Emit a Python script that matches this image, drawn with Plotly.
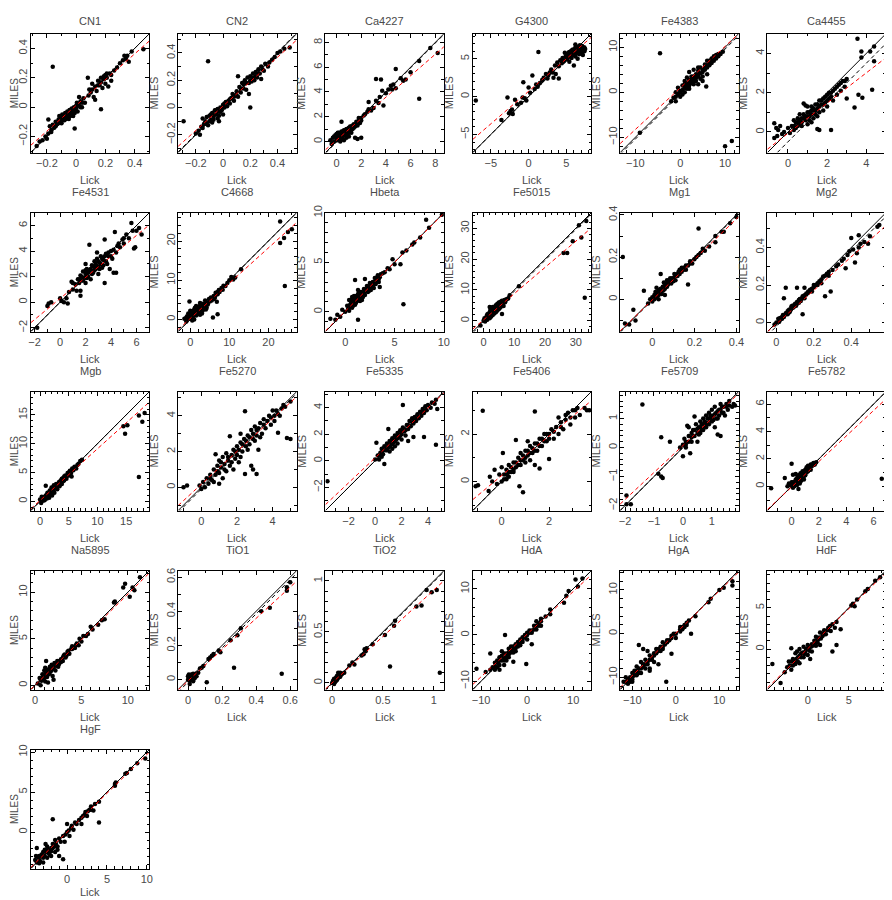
import math
import plotly.graph_objects as go

## Index names, one panel each (Lick measured vs MILES measured)
NAMES = ["CN1", "CN2", "Ca4227", "G4300", "Fe4383", "Ca4455",
         "Fe4531", "C4668", "Hbeta", "Fe5015", "Mg1", "Mg2",
         "Mgb", "Fe5270", "Fe5335", "Fe5406", "Fe5709", "Fe5782",
         "Na5895", "TiO1", "TiO2", "HdA", "HgA", "HdF",
         "HgF"]

## Axis limits (same for Lick and MILES axes) and major tick step
LO = [-0.31, -0.33, -0.9, -7.4, -13.4, -1.05,
      -2.3, -3.1, -2.0, -3.5, -0.153, -0.048,
      -1.6, -1.3, -3.75, -1.22, -2.17, -1.77,
      -0.45, -0.058, -0.065, -11.8, -12.8, -4.9,
      -4.55]
HI = [0.5, 0.54, 8.7, 8.3, 13.0, 5.0,
      7.0, 27.2, 10.0, 35.0, 0.41, 0.585,
      19.0, 5.34, 5.2, 3.78, 1.92, 6.9,
      12.3, 0.637, 1.1, 13.9, 14.4, 9.5,
      10.3]
DTICK = [0.2, 0.2, 2, 5, 10, 2,
         2, 10, 5, 10, 0.2, 0.2,
         5, 2, 2, 2, 1, 2,
         5, 0.2, 0.5, 10, 10, 5,
         5]

## Linear fit (red dashed) and mean offset (black dashed)
RED_SLOPE = [0.877, 0.894, 0.867, 0.859, 0.924, 0.77,
             0.823, 0.9, 0.99, 0.85, 0.96, 0.894,
             0.898, 0.916, 0.94, 0.832, 0.93, 0.93,
             0.98, 0.914, 0.91, 0.922, 0.97, 0.97,
             0.97]
RED_ICPT = [0.012, 0.011, 0.11, 0.7, 0.98, -0.07,
            0.29, 0.24, 0.05, 0.3, -0.003, -0.007,
            0.14, 0.17, 0.22, 0.255, 0.07, -0.05,
            0.0, -0.007, 0.0, 0.18, 0.1, 0.05,
            0.0]
BLK_OFF = [0.0, 0.005, -0.05, 0.0, -0.4, -0.5,
           0.0, 0.0, 0.0, -0.4, -0.004, -0.02,
           0.0, -0.1, 0.0, 0.0, 0.0, 0.0,
           0.0, -0.015, -0.01, 0.0, 0.0, 0.0,
           0.0]

## (Lick, MILES) pairs per index
CN1 = [(-0.27,-0.265),(-0.25,-0.235),(-0.23,-0.225),(-0.21,-0.2),(-0.2,-0.215),(-0.19,-0.085),(-0.18,-0.13),
       (-0.17,-0.155),(-0.16,-0.12),(-0.15,-0.14),(-0.14,-0.1),(-0.13,-0.115),(-0.12,-0.085),(-0.115,-0.06),
       (-0.11,-0.1),(-0.1,-0.075),(-0.095,-0.05),(-0.09,-0.09),(-0.08,-0.065),(-0.075,-0.04),(-0.07,-0.08),
       (-0.065,-0.055),(-0.06,-0.03),(-0.055,-0.07),(-0.05,-0.045),(-0.045,-0.02),(-0.04,-0.06),(-0.035,-0.035),
       (-0.03,-0.01),(-0.025,-0.05),(-0.02,-0.025),(-0.015,0.0),(-0.01,-0.04),(0.0,-0.01),(0.005,0.03),
       (0.01,-0.03),(0.02,0.01),(0.03,0.04),(0.04,0.0),(0.05,0.06),(0.06,0.03),(0.08,0.2),(0.085,0.08),
       (0.09,0.12),(0.1,0.1),(0.11,0.16),(0.12,0.07),(0.13,0.14),(0.14,0.11),(0.15,0.18),(0.16,0.15),
       (0.17,0.2),(0.18,0.13),(0.19,0.19),(0.2,0.16),(0.2,0.22),(0.21,0.2),(0.22,0.14),(0.23,0.23),
       (0.24,0.18),(0.26,0.25),(0.28,0.27),(0.32,0.32),(0.33,0.35),(0.34,0.33),(0.36,0.31),(0.38,0.38),
       (0.46,0.395),(-0.16,0.275),(-0.01,-0.145),(0.17,-0.015),(0.13,0.05),(0.02,0.07),
       (-0.14,-0.13),(-0.12,-0.11),(-0.1,-0.11),(-0.09,-0.07),(-0.08,-0.09),(-0.06,-0.06),(-0.05,-0.08),
       (-0.04,-0.03),(-0.03,-0.04),(-0.02,-0.06),(-0.01,-0.02),(0.0,0.01),(0.01,0.02),(0.03,0.0),(0.04,0.03),
       (0.11,0.12),(0.15,0.15),(0.17,0.17),(0.19,0.21),(0.21,0.23),(0.24,0.22),(0.3,0.3),(0.35,0.35),
       (-0.17,-0.17),(-0.19,-0.18)]
CN2 = [(-0.29,-0.1),(-0.11,0.34),(0.2,0.0),(-0.2,-0.19),(-0.18,-0.17),(-0.17,-0.2),(-0.16,-0.14),(-0.15,-0.08),
       (-0.14,-0.12),(-0.13,-0.1),(-0.12,-0.07),(-0.11,-0.13),(-0.1,-0.06),(-0.09,-0.09),(-0.08,-0.11),
       (-0.08,-0.04),(-0.07,-0.07),(-0.06,-0.02),(-0.05,-0.05),(-0.04,-0.01),(-0.04,-0.08),(-0.03,-0.03),
       (-0.02,0.0),(-0.01,-0.02),(0.0,0.02),(0.0,-0.05),(0.01,0.0),(0.02,0.04),(0.03,0.01),(0.04,0.05),
       (0.05,0.03),(0.06,0.07),(0.07,0.1),(0.08,0.05),(0.09,0.09),(0.1,0.12),(0.11,0.08),(0.12,0.15),
       (0.13,0.11),(0.14,0.18),(0.15,0.14),(0.16,0.2),(0.17,0.13),(0.18,0.22),(0.19,0.18),(0.2,0.23),
       (0.21,0.19),(0.22,0.25),(0.23,0.2),(0.24,0.26),(0.25,0.22),(0.26,0.28),(0.27,0.25),(0.28,0.3),
       (0.3,0.27),(0.31,0.32),(0.33,0.3),(0.36,0.35),(0.4,0.4),(0.42,0.41),(0.45,0.43),(0.49,0.44),
       (0.11,0.23),(0.19,0.1),(0.28,0.21),(-0.03,-0.1),
       (-0.15,-0.15),(-0.12,-0.12),(-0.1,-0.1),(-0.09,-0.05),(-0.07,-0.09),(-0.06,-0.05),(-0.05,-0.02),
       (-0.03,-0.06),(-0.02,-0.03),(0.0,0.0),(0.01,0.03),(0.03,0.04),(0.05,0.06),(0.08,0.08),(0.1,0.09),
       (0.13,0.14),(0.15,0.17),(0.17,0.18),(0.2,0.2),(0.22,0.22),(0.24,0.23),(0.26,0.25),(0.29,0.28),
       (0.34,0.33),(0.38,0.37)]
CA4227 = [(-0.3,0.3),(-0.2,0.0),(-0.1,0.5),(0.0,0.2),(0.0,0.6),(0.1,0.1),(0.1,0.4),(0.2,0.7),(0.2,0.3),
          (0.3,0.0),(0.3,0.5),(0.4,0.2),(0.4,0.8),(0.5,0.4),(0.5,0.6),(0.6,0.1),(0.6,0.9),(0.7,0.5),
          (0.7,0.7),(0.8,0.3),(0.8,1.0),(0.9,0.6),(0.9,0.8),(1.0,1.1),(1.0,0.4),(1.1,0.9),(1.2,1.2),
          (1.2,0.7),(1.3,1.0),(1.4,1.4),(1.5,1.2),(1.5,0.3),(1.6,1.6),(1.7,1.3),(1.7,0.2),(1.8,1.7),
          (1.9,1.5),(2.0,0.3),(2.0,1.9),(2.2,2.1),(2.5,2.4),(2.6,3.2),(2.8,2.5),(3.0,2.7),(3.2,3.3),
          (3.2,5.05),(3.4,3.1),(3.6,5.0),(3.7,4.1),(3.8,2.9),(4.2,4.2),(4.4,4.5),(4.6,4.6),(4.8,5.85),
          (4.8,4.3),(5.2,5.1),(5.4,4.9),(5.6,5.0),(6.0,5.6),(6.7,6.5),(6.7,3.45),(7.6,7.55),(8.2,7.15),
          (0.4,1.6),(-0.5,0.1),(-0.4,-0.2),
          (-0.2,0.4),(0.0,0.4),(0.1,0.7),(0.2,0.5),(0.3,0.3),(0.4,0.6),(0.5,0.2),(0.5,0.8),(0.6,0.6),
          (0.7,0.9),(0.8,0.5),(0.9,1.0),(1.0,0.7),(1.1,1.2),(1.2,1.0),(1.3,1.3),(1.4,1.1),(1.6,1.4),
          (1.8,1.9),(2.0,1.7),(2.3,2.2),(2.6,2.6),(3.5,3.6),(4.0,3.9),(4.5,4.2)]
G4300 = [(-7,-0.5),(1.3,5.9),(-3.6,-3.1),(-2.8,-0.1),(-2.6,-2.2),(-2.4,-1.9),(-2.2,-1.7),(-2.1,-2.3),
         (-1.8,-0.4),(-1.0,-0.8),(-0.8,-0.1),(-0.7,1.9),(-0.5,-0.2),(-0.3,-0.5),(0.0,1.2),(0.2,0.5),
         (0.5,2.8),(0.8,1.0),(1.0,1.6),(1.5,1.8),(1.8,2.2),(2.0,2.5),(2.3,3.0),(2.5,2.4),(2.8,3.2),
         (3.0,3.6),(3.3,2.5),(3.5,4.1),(3.6,3.0),(3.8,4.5),(4.0,2.4),(4.0,4.0),(4.2,4.8),(4.4,4.4),
         (4.5,5.1),(4.7,4.7),(4.8,5.8),(4.9,5.3),(5.0,4.9),(5.1,5.6),(5.2,5.1),(5.3,5.8),(5.5,5.4),
         (5.6,6.0),(5.7,5.1),(5.8,5.7),(5.9,6.2),(6.0,5.5),(6.0,4.1),(6.1,6.0),(6.2,5.3),(6.3,6.4),
         (6.4,5.8),(6.5,6.6),(6.5,5.0),(6.6,6.1),(6.7,5.6),(6.8,6.8),(6.9,6.3),(7.0,5.9),(7.0,6.7),
         (7.1,6.2),(7.2,5.5),(7.3,6.5),(7.4,6.0),(7.5,6.3),(6.2,6.9),(5.4,4.6),
         (5.2,5.4),(5.4,5.9),(5.6,5.6),(5.8,6.2),(6.0,6.0),(6.1,5.7),(6.2,6.5),(6.3,6.0),(6.4,6.3),
         (6.5,5.8),(6.6,6.5),(6.7,6.2),(6.8,5.9),(6.9,6.6),(7.0,6.3),(7.1,6.7),(7.2,6.0),(7.3,6.3),
         (7.4,6.5),(5.0,5.2),(4.6,4.6),(3.2,3.2),(2.6,2.8),(1.2,1.3),(-1.5,-1.0)]
FE4383 = [(-4.5,8.7),(-9,-9),(10,-12),(11.5,-10.8),(-2,-2),(-1.5,-1.2),(-1,-2),(-1,0),(-0.5,-0.5),
          (-0.5,1),(0,0.3),(0,-1),(0.5,0.5),(0.5,1.5),(1,1),(1,0),(1.5,2),(1.5,0.8),(2,1.5),(2,2.8),
          (2.5,3.5),(2.5,2),(3,3),(3,1.8),(3,5),(3.5,2.5),(3.5,4),(4,3.5),(4,4.8),(4.5,3),(4.5,5.5),
          (5,4.5),(5,2.5),(5.5,5),(5.5,6.2),(6,5.5),(6,4),(6.5,7),(6.5,6),(7,6.5),(7,7.5),(7.5,7),
          (7.5,8),(8,7.5),(8,8.3),(8.5,8),(9,8.5),(9.5,9),(2,4.5),(1.5,3.3),(4,1.8),(5.8,1.3),
          (0,0),(0.5,-0.5),(1,1.8),(1.5,1.5),(2,2),(2.5,2.8),(3,3.5),(3.5,3.2),(4,4),(4.5,4.2),(5,5),
          (5.5,5.5),(6,6),(6.5,6.5),(7,7),(7.5,7.5),(8,8),(8.5,8.5),(3,2.3),(5,3.5),(2,0.8),(4,5.5),
          (6,7),(-1,-1),(1,2.5)]
CA4455 = [(-0.7,0.45),(-0.6,0.2),(-0.5,0.1),(-0.7,-0.3),(-0.55,-0.2),(-0.4,0.3),(-0.3,-0.1),(-0.2,0.0),
          (0.0,0.2),(0.1,-0.05),(0.2,0.3),(0.3,0.1),(0.4,0.5),(0.4,0.2),(0.5,0.7),(0.5,0.3),(0.6,0.4),
          (0.6,0.9),(0.7,0.5),(0.7,0.3),(0.8,0.7),(0.8,1.45),(0.9,1.35),(0.9,0.6),(1.0,0.8),(1.0,0.4),
          (1.1,1.0),(1.1,0.6),(1.2,0.9),(1.2,1.3),(1.3,0.7),(1.3,1.1),(1.4,1.4),(1.4,0.9),(1.5,1.2),
          (1.5,0.15),(1.6,1.6),(1.6,0.1),(1.6,1.0),(1.7,1.4),(1.8,1.7),(1.8,1.1),(1.9,1.5),(2.0,1.9),
          (2.0,1.3),(2.1,1.7),(2.2,2.0),(2.2,0.1),(2.3,1.6),(2.4,2.2),(2.5,1.9),(2.6,2.4),(2.7,2.1),
          (2.8,2.6),(2.9,2.3),(3.0,2.7),(3.0,1.7),(3.4,1.25),(3.55,4.75),(3.6,1.9),(3.75,4.1),(3.75,3.8),
          (3.8,1.75),(4.2,4.1),(4.4,4.35),(4.4,3.6),(4.3,2.15),(1.0,1.3),(0.3,0.6),
          (0.5,0.5),(0.6,0.6),(0.7,0.7),(0.8,0.9),(0.9,0.8),(1.0,1.0),(1.1,0.8),(1.2,1.1),(1.3,1.2),
          (1.4,1.1),(1.5,1.4),(1.6,1.3),(1.7,1.6),(1.8,1.4),(1.9,1.8),(2.0,1.6),(2.1,2.0),(2.2,1.8),
          (2.3,2.1),(2.5,2.3),(2.7,2.5),(2.9,2.6),(1.2,0.5),(1.5,0.8),(0.3,0.3)]
FE4531 = [(-1.8,-2.0),(-0.9,-0.1),(-1.0,-0.3),(-0.7,0.0),(0.0,0.3),(0.1,0.1),(0.3,0.0),(0.5,0.3),
          (0.6,-0.1),(0.7,0.8),(0.9,1.6),(1.0,1.0),(1.2,1.4),(1.3,0.9),(1.4,1.8),(1.5,1.5),(1.6,0.9),
          (1.6,2.1),(1.7,1.7),(1.8,2.4),(1.9,1.9),(2.0,2.2),(2.0,1.5),(2.1,2.6),(2.2,2.0),(2.3,4.5),
          (2.3,2.5),(2.4,1.8),(2.5,2.9),(2.6,2.3),(2.7,3.2),(2.8,2.6),(2.9,3.4),(3.0,2.8),(3.0,2.2),
          (3.1,3.1),(3.2,3.6),(3.3,2.7),(3.4,3.3),(3.5,4.9),(3.5,1.5),(3.6,3.8),(3.7,3.0),(3.8,3.6),
          (3.9,2.6),(4.0,4.0),(4.1,3.4),(4.2,2.3),(4.3,5.5),(4.4,2.3),(4.5,4.4),(4.7,4.3),(4.9,4.9),
          (5.0,4.6),(5.2,5.3),(5.4,5.0),(5.6,6.2),(5.7,5.6),(5.8,4.2),(5.9,4.3),(6.0,5.6),(6.2,5.8),
          (6.4,5.3),(2.0,3.0),(2.9,3.9),(1.0,1.5),(1.6,0.5),
          (1.5,1.8),(1.7,2.0),(1.8,1.7),(2.0,2.5),(2.1,1.9),(2.2,2.3),(2.4,2.6),(2.5,2.2),(2.6,2.8),
          (2.7,2.5),(2.8,3.0),(2.9,2.7),(3.0,3.2),(3.1,2.6),(3.2,3.0),(3.3,3.4),(3.4,2.9),(3.5,3.6),
          (3.6,3.2),(3.8,3.9),(4.0,3.6),(4.2,4.1),(4.4,3.9),(4.6,4.6),(5.0,5.0)]
C4668 = [(-1.5,0.2),(-1.0,-0.5),(-0.8,0.8),(-0.5,1.5),(-0.2,4.6),(0.0,0.5),(0.2,1.2),(0.5,-0.3),
         (0.5,2.0),(0.8,0.9),(1.0,1.8),(1.2,3.0),(1.5,1.0),(1.5,2.4),(1.8,1.5),(2.0,3.0),(2.2,2.0),
         (2.5,3.5),(2.5,1.2),(2.8,2.6),(3.0,4.0),(3.2,2.3),(3.5,3.3),(3.8,4.8),(4.0,3.8),(4.2,3.0),
         (4.5,4.3),(4.8,5.2),(5.0,4.6),(5.3,5.6),(5.5,4.8),(5.8,0.5),(6.0,6.0),(6.3,5.5),(6.5,6.8),
         (7.0,1.3),(7.0,6.4),(7.3,7.5),(7.5,7.0),(8.0,8.0),(8.3,7.6),(8.5,8.6),(9.0,8.5),(9.5,9.3),
         (10,10),(10.5,10.8),(11.0,10.2),(11.5,10.7),(13,12.8),(23,25),(23,19.5),(24,20.8),(24.2,8.5),
         (25,22.3),(26,23),(1.0,0.0),(3.0,1.5),(6.8,4.5),
         (-1,0.5),(-0.5,0.2),(0,1.5),(0.5,1),(0.5,0.3),(1,2.5),(1,1.2),(1.5,1.8),(2,2.5),(2,1.4),
         (2.5,2.8),(3,3.1),(3,2.2),(3.5,3.9),(4,4.3),(4.5,3.8),(5,5.3),(5.5,5.4),(6,5.2),(6.5,6.2),
         (7,7),(2.5,4.2),(1.5,3.4),(0,2.2),(4,2.5)]
HBETA = [(-1.5,-0.7),(-1.0,-0.8),(-0.8,-0.3),(-0.5,-0.5),(-0.3,0.2),(0.0,0.0),(0.2,0.6),(0.3,0.3),
         (0.4,1.2),(0.5,0.7),(0.6,0.9),(0.7,0.4),(0.7,1.5),(0.8,1.0),(0.9,1.3),(1.0,0.7),(1.0,3.2),
         (1.1,1.6),(1.2,1.1),(1.3,-0.8),(1.3,1.8),(1.4,1.3),(1.5,1.5),(1.6,2.0),(1.7,1.2),(1.8,1.9),
         (1.9,2.3),(2.0,1.7),(2.1,2.2),(2.2,2.6),(2.3,2.0),(2.4,2.4),(2.5,2.9),(2.6,2.2),(2.7,2.6),
         (2.8,3.0),(2.9,2.4),(3.0,3.4),(3.1,2.8),(3.2,3.1),(3.3,3.7),(3.4,3.0),(3.5,3.5),(3.8,3.9),
         (4.0,4.0),(4.3,4.4),(4.5,4.3),(4.8,5.3),(5.0,4.8),(5.6,4.8),(5.8,6.0),(5.9,0.75),(6.2,6.2),
         (6.8,6.8),(7.0,7.0),(7.6,7.5),(8.2,9.3),(8.5,8.5),(9.8,9.8),(2.0,3.3),(3.5,2.5),
         (0.5,0.5),(0.6,1.2),(0.8,0.6),(0.9,1.0),(1.0,1.3),(1.1,0.9),(1.2,1.5),(1.4,1.6),(1.5,1.1),
         (1.6,1.7),(1.8,1.5),(1.9,2.0),(2.0,2.1),(2.2,2.3),(2.4,2.1),(2.5,2.6),(2.7,2.9),(2.9,2.8),
         (3.0,3.0),(3.2,3.4),(3.4,3.3),(3.6,3.8),(1.3,2.2),(0.9,1.6),(0.4,0.1)]
FE5015 = [(-1,-1.5),(0,0),(0.3,0.8),(0.5,-0.2),(0.8,0.5),(1.0,1.5),(1.2,0.3),(1.5,1.0),(1.5,2.3),
          (1.8,1.6),(2.0,2.8),(2.0,0.8),(2.3,2.0),(2.5,1.4),(2.5,3.3),(2.8,2.6),(3.0,1.9),(3.0,4.5),
          (3.3,3.2),(3.5,2.4),(3.5,4.0),(3.8,3.5),(4.0,2.8),(4.0,5.0),(4.3,4.2),(4.5,3.3),(4.5,5.5),
          (4.8,4.6),(5.0,3.8),(5.0,5.9),(5.3,5.0),(5.5,4.3),(5.5,6.2),(5.8,5.4),(6.0,2.2),(6.0,6.5),
          (6.3,5.8),(6.5,4.8),(6.8,6.7),(7.0,6.0),(7.5,7.0),(8.0,7.2),(8.5,8.3),(11.5,11.2),(26,22),
          (27.2,22),(29,25.8),(31,31),(31.8,27),(32.9,7.5),(33.4,32.3),(2,4.5),
          (0.5,0.5),(1,1),(1.5,1.5),(2,2),(2.3,2.6),(2.7,2.2),(3,3),(3.3,3.8),(3.6,3.0),(4,4),
          (4.2,3.5),(4.5,4.5),(4.8,4.0),(5,5),(5.3,5.5),(5.6,4.9),(6,6),(6.2,5.2),(6.5,6.2),(7,6.5),
          (2.2,3.5),(1.2,2.0),(3.8,4.6),(5.8,6.0),(7.3,6.8)]
MG1 = [(-0.14,0.2),(-0.13,-0.115),(-0.11,-0.12),(-0.09,-0.05),(-0.08,-0.1),(-0.04,0.04),(-0.02,-0.02),
       (-0.01,0.0),(0.0,0.01),(0.0,-0.01),(0.01,0.02),(0.01,0.0),(0.015,0.035),(0.02,0.01),(0.025,0.02),
       (0.03,0.04),(0.03,0.0),(0.035,0.03),(0.04,0.12),(0.04,0.05),(0.045,0.025),(0.05,0.06),(0.05,0.04),
       (0.055,0.08),(0.06,0.05),(0.065,0.07),(0.07,0.09),(0.07,0.06),(0.08,0.08),(0.085,0.1),(0.09,0.075),
       (0.1,0.1),(0.105,0.12),(0.11,0.09),(0.12,0.11),(0.125,0.13),(0.13,0.12),(0.135,0.14),(0.14,0.13),
       (0.15,0.15),(0.16,0.14),(0.17,0.07),(0.17,0.16),(0.18,0.18),(0.19,0.17),(0.2,0.19),(0.21,0.2),
       (0.22,0.335),(0.22,0.21),(0.23,0.22),(0.24,0.24),(0.25,0.23),(0.27,0.25),(0.3,0.27),(0.3,0.3),
       (0.33,0.32),(0.34,0.32),(0.37,0.36),(0.4,0.39),(0.02,0.055),(0.06,0.02),
       (0.005,0.005),(0.01,0.01),(0.02,0.02),(0.025,0.03),(0.03,0.02),(0.035,0.045),(0.04,0.035),
       (0.045,0.05),(0.05,0.05),(0.055,0.045),(0.06,0.065),(0.065,0.06),(0.07,0.075),(0.075,0.07),
       (0.08,0.09),(0.09,0.09),(0.095,0.1),(0.1,0.085),(0.11,0.11),(0.12,0.12),(0.13,0.14),(0.14,0.15),
       (0.15,0.14),(0.16,0.16),(0.18,0.17)]
MG2 = [(-0.01,-0.01),(0.0,0.0),(0.01,0.02),(0.015,0.005),(0.02,0.025),(0.03,0.02),(0.035,0.04),(0.04,0.13),
       (0.04,0.03),(0.05,0.185),(0.05,0.05),(0.06,0.045),(0.065,0.065),(0.07,0.055),(0.08,0.075),
       (0.085,0.09),(0.09,0.08),(0.1,0.1),(0.105,0.09),(0.11,0.185),(0.11,0.11),(0.12,0.105),(0.125,0.125),
       (0.13,0.115),(0.14,0.045),(0.14,0.14),(0.15,0.185),(0.15,0.13),(0.16,0.15),(0.17,0.16),(0.18,0.175),
       (0.19,0.165),(0.2,0.19),(0.21,0.2),(0.22,0.2),(0.23,0.22),(0.24,0.21),(0.25,0.245),(0.26,0.14),
       (0.27,0.26),(0.28,0.25),(0.29,0.165),(0.3,0.28),(0.32,0.3),(0.33,0.31),(0.35,0.33),(0.36,0.34),
       (0.37,0.29),(0.38,0.36),(0.39,0.38),(0.4,0.45),(0.41,0.39),(0.42,0.32),(0.43,0.37),(0.44,0.465),
       (0.45,0.42),(0.47,0.43),(0.49,0.42),(0.5,0.46),(0.54,0.51),(0.55,0.52),(0.44,0.4),
       (0.02,0.015),(0.03,0.03),(0.045,0.04),(0.055,0.05),(0.06,0.06),(0.07,0.07),(0.075,0.065),
       (0.08,0.085),(0.09,0.09),(0.095,0.085),(0.1,0.095),(0.11,0.1),(0.12,0.12),(0.13,0.125),(0.14,0.13),
       (0.15,0.145),(0.16,0.155),(0.17,0.165),(0.18,0.17),(0.19,0.18),(0.2,0.2),(0.22,0.21),(0.24,0.23),
       (0.26,0.25),(0.28,0.27)]
MGB = [(0,0.3),(0.2,-0.3),(0.3,0.8),(0.5,0.1),(0.6,0.6),(0.8,0.2),(1.0,2.7),(1.0,1.0),(1.2,0.5),
       (1.3,1.5),(1.5,1.1),(1.6,0.6),(1.7,1.9),(1.9,1.5),(2.0,2.4),(2.1,1.0),(2.3,2.0),(2.4,2.8),
       (2.5,1.5),(2.7,2.5),(2.8,3.0),(3.0,2.1),(3.1,2.9),(3.3,3.3),(3.4,2.6),(3.6,3.6),(3.8,3.0),
       (4.0,4.0),(4.2,3.6),(4.4,4.5),(4.6,3.9),(4.8,4.9),(5.0,4.5),(5.2,5.3),(5.4,4.9),(5.5,4.3),
       (5.6,5.7),(5.8,5.4),(6.0,6.0),(6.3,5.7),(6.7,6.5),(7.0,7.0),(7.3,7.2),(14.5,13),(14.8,11.7),
       (15.2,13.2),(17.2,14.9),(17.2,4.2),(17.8,13.8),(18.2,15.3),(2.2,1.8),(3.5,3.0),
       (0.5,0.5),(0.8,0.8),(1.0,0.6),(1.2,1.2),(1.5,1.5),(1.7,1.2),(2.0,2.0),(2.2,2.3),(2.4,2.0),
       (2.6,2.6),(2.8,2.4),(3.0,3.0),(3.2,2.8),(3.4,3.4),(3.6,3.2),(3.8,3.9),(4.0,3.5),(4.2,4.3),
       (4.5,4.2),(4.8,4.5),(5.0,5.0),(5.3,5.0),(5.7,5.5),(6.0,5.8),(6.5,6.3)]
FE5270 = [(-1.0,0.0),(-0.8,0.1),(-0.1,0.1),(0.0,-0.1),(0.1,0.3),(0.2,0.0),(0.3,0.5),(0.4,0.2),
          (0.5,0.7),(0.6,0.4),(0.7,1.0),(0.7,0.3),(0.8,1.85),(0.8,0.7),(0.9,1.2),(1.0,0.8),(1.0,1.5),
          (1.1,1.1),(1.2,1.7),(1.2,0.5),(1.3,1.3),(1.4,1.9),(1.4,0.9),(1.5,1.5),(1.6,2.85),(1.6,1.2),
          (1.7,1.8),(1.8,2.1),(1.8,1.0),(1.9,1.6),(2.0,2.3),(2.0,1.8),(2.1,1.4),(2.2,2.5),(2.3,2.0),
          (2.4,2.7),(2.45,4.25),(2.45,0.75),(2.5,2.3),(2.6,2.9),(2.7,2.4),(2.8,1.2),(2.8,3.2),(2.9,1.0),
          (2.9,2.7),(3.0,3.4),(3.1,0.75),(3.1,2.9),(3.2,2.1),(3.3,3.6),(3.4,3.0),(3.5,3.8),(3.6,3.3),
          (3.8,4.0),(3.9,3.5),(4.0,4.3),(4.1,3.7),(4.3,3.05),(4.3,4.1),(4.5,4.4),(4.7,4.5),(4.8,2.75),
          (5.0,2.7),(5.0,4.8),(1.0,0.2),(2.2,3.0),
          (0.5,0.5),(0.9,0.9),(1.1,1.4),(1.3,1.0),(1.5,1.7),(1.7,1.4),(1.9,2.0),(2.1,2.1),(2.2,1.7),
          (2.3,2.4),(2.5,2.6),(2.6,2.1),(2.7,2.8),(2.9,3.0),(3.0,2.6),(3.1,3.2),(3.2,3.3),(3.3,2.8),
          (3.5,3.5),(3.7,3.7),(3.9,3.9),(4.1,4.0),(4.2,4.3),(4.4,4.0),(4.6,4.6)]
FE5335 = [(-3.6,-1.55),(0.0,0.1),(0.1,1.35),(0.2,0.4),(0.3,0.1),(0.4,0.6),(0.5,0.3),(0.5,0.9),(0.6,0.5),
          (0.7,-0.25),(0.7,1.1),(0.8,0.8),(0.9,1.3),(1.0,2.4),(1.0,1.0),(1.1,0.7),(1.1,1.5),(1.2,1.2),
          (1.3,1.7),(1.3,0.9),(1.4,1.4),(1.5,1.9),(1.5,1.1),(1.6,1.6),(1.7,2.1),(1.7,1.3),(1.8,1.8),
          (1.9,2.3),(2.0,1.6),(2.0,2.0),(2.1,4.2),(2.1,2.5),(2.2,2.2),(2.3,1.9),(2.4,2.7),(2.5,1.5),
          (2.5,2.4),(2.6,3.0),(2.7,2.6),(2.8,3.2),(2.9,1.8),(2.9,2.8),(3.0,3.3),(3.1,3.0),(3.2,3.5),
          (3.3,3.2),(3.4,3.7),(3.5,3.4),(3.6,3.9),(3.7,1.8),(3.7,3.6),(3.8,4.1),(3.9,3.8),(4.0,4.2),
          (4.2,4.0),(4.3,4.4),(4.5,4.3),(4.6,1.2),(4.6,4.6),(4.7,3.9),
          (0.3,0.4),(0.5,0.6),(0.6,0.8),(0.8,1.0),(0.9,0.8),(1.0,1.2),(1.1,1.1),(1.2,1.4),(1.3,1.3),
          (1.4,1.6),(1.5,1.5),(1.6,1.8),(1.7,1.7),(1.8,2.0),(1.9,1.9),(2.0,2.2),(2.2,2.4),(2.3,2.3),
          (2.5,2.7),(2.6,2.6),(2.8,2.9),(3.0,3.1),(3.2,3.2),(3.5,3.6),(3.8,3.8)]
FE5406 = [(-1.1,-0.2),(-1.0,-0.15),(-0.8,2.98),(-0.55,-0.4),(-0.5,0.2),(-0.4,0.0),(-0.3,0.5),(-0.2,-0.1),
          (-0.1,0.3),(0.0,0.6),(0.0,0.0),(0.05,1.2),(0.1,0.3),(0.2,0.1),(0.2,0.5),(0.3,0.7),(0.3,0.2),
          (0.4,0.4),(0.5,0.8),(0.5,0.5),(0.6,1.75),(0.6,0.6),(0.7,1.0),(0.75,-0.2),(0.8,0.7),(0.8,1.2),
          (0.9,-0.45),(0.9,0.9),(1.0,1.3),(1.0,0.8),(1.1,1.1),(1.2,1.5),(1.2,0.9),(1.3,1.2),(1.4,2.95),
          (1.4,1.6),(1.4,0.7),(1.5,1.3),(1.6,1.8),(1.6,0.55),(1.7,1.5),(1.8,2.0),(1.9,1.7),(2.0,0.95),
          (2.0,2.0),(2.1,2.2),(2.2,1.8),(2.3,2.3),(2.4,2.0),(2.5,2.5),(2.6,2.2),(2.7,2.6),(2.8,2.9),
          (2.9,2.4),(3.0,3.0),(3.1,2.7),(3.2,3.1),(3.3,2.8),(3.5,3.1),(3.6,3.0),(3.7,3.0),(1.1,1.7),(2.4,2.7),
          (0.1,0.1),(0.2,0.3),(0.3,0.4),(0.4,0.6),(0.5,0.4),(0.6,0.8),(0.7,0.7),(0.8,0.9),(0.9,1.1),
          (1.0,1.0),(1.1,1.3),(1.2,1.2),(1.3,1.4),(1.4,1.3),(1.5,1.6),(1.6,1.5),(1.7,1.8),(1.8,1.7),
          (1.9,2.0),(2.0,1.8),(2.2,2.1),(2.5,2.3),(2.7,2.8),(2.9,2.7),(3.1,3.0)]
FE5709 = [(-1.95,-1.65),(-1.95,-1.95),(-1.8,-1.95),(-1.4,1.48),(-0.85,-0.9),(-0.75,-1.0),(-0.7,-1.05),
          (-0.75,0.35),(-0.45,0.2),(-0.1,0.0),(0.0,0.1),(0.0,-0.3),(0.05,0.3),(0.1,0.0),(0.1,0.2),
          (0.15,0.75),(0.2,0.7),(0.2,0.4),(0.25,-0.2),(0.3,0.5),(0.3,0.2),(0.35,0.6),(0.4,1.07),(0.4,0.4),
          (0.45,0.8),(0.5,0.5),(0.5,0.2),(0.55,0.7),(0.6,0.9),(0.6,0.5),(0.65,0.8),(0.7,1.0),(0.7,0.6),
          (0.75,0.9),(0.8,1.1),(0.8,0.7),(0.85,1.0),(0.9,1.2),(0.9,0.8),(0.95,0.95),(1.0,1.3),(1.0,0.9),
          (1.05,1.1),(1.1,1.4),(1.1,0.7),(1.15,1.2),(1.2,1.0),(1.2,0.45),(1.25,1.3),(1.3,0.4),(1.3,1.5),
          (1.35,1.2),(1.4,1.4),(1.45,1.1),(1.5,1.5),(1.55,1.3),(1.6,1.6),(1.7,1.4),(1.75,1.5),(1.8,1.45),
          (0.1,0.1),(0.2,0.2),(0.3,0.35),(0.4,0.6),(0.5,0.65),(0.6,0.7),(0.7,0.8),(0.75,0.7),(0.8,0.85),
          (0.85,0.8),(0.9,1.0),(0.95,1.1),(1.0,1.05),(1.05,0.95),(1.1,1.15),(1.15,1.0),(1.2,1.25),
          (1.25,1.1),(1.3,1.3),(1.35,1.4),(1.4,1.2),(1.5,1.4),(1.6,1.45),(0.65,0.6),(0.55,0.45)]
FE5782 = [(-1.5,-0.15),(-0.5,0.6),(-0.3,0.0),(-0.2,0.2),(0.0,1.65),(0.0,0.1),(0.1,0.85),(0.1,-0.1),
          (0.2,0.3),(0.2,0.0),(0.3,0.5),(0.3,0.2),(0.4,0.1),(0.4,0.6),(0.5,0.4),(0.5,0.8),(0.6,0.2),
          (0.6,0.6),(0.7,0.9),(0.7,0.4),(0.8,0.7),(0.8,1.1),(0.9,0.5),(0.9,0.9),(1.0,1.2),(1.0,0.8),
          (1.1,1.0),(1.1,1.4),(1.2,1.1),(1.2,1.5),(1.3,1.3),(1.4,1.6),(1.4,1.2),(1.5,1.5),(1.6,1.7),
          (1.7,1.6),(1.8,1.75),(6.6,0.55),(0.5,-0.2),(0.3,0.9),
          (0.2,0.15),(0.3,0.35),(0.4,0.4),(0.5,0.55),(0.6,0.45),(0.7,0.7),(0.75,0.55),(0.8,0.85),
          (0.9,0.75),(0.95,1.0),(1.0,0.95),(1.05,1.1),(1.1,1.2),(1.2,1.3),(1.25,1.2),(1.3,1.45),
          (1.35,1.35),(1.45,1.5),(1.5,1.6),(1.6,1.55),(0.1,0.3),(0.0,0.3),(-0.1,0.1),(0.65,0.95),(0.85,0.6)]
NA5895 = [(0.3,0.2),(0.5,0.8),(0.6,0.0),(0.7,0.5),(0.8,1.2),(0.9,0.6),(1.0,1.0),(1.0,1.6),(1.1,0.4),
          (1.2,1.3),(1.2,2.6),(1.3,0.9),(1.4,1.7),(1.5,1.2),(1.6,2.0),(1.7,1.5),(1.8,2.2),(1.9,1.0),
          (2.0,1.8),(2.1,2.4),(2.2,1.6),(2.3,2.1),(2.4,2.6),(2.5,2.0),(2.6,2.3),(2.8,2.8),(3.0,2.6),
          (3.1,3.2),(3.3,3.0),(3.5,3.6),(3.7,3.4),(3.9,3.9),(4.0,4.2),(4.3,4.0),(4.5,4.5),(4.7,4.3),
          (4.8,5.0),(5.0,4.7),(5.2,5.3),(5.5,5.3),(5.7,5.5),(6.0,6.3),(6.2,6.0),(6.8,6.5),(7.2,7.0),
          (7.5,7.1),(8.5,8.9),(8.6,9.0),(9.5,10.5),(9.7,10.9),(10.2,9.5),(10.5,10.5),(10.7,10.2),
          (11.3,11.6),(2.0,0.6),(1.4,0.3),
          (0.6,0.6),(0.8,0.8),(0.9,1.1),(1.0,0.8),(1.1,1.2),(1.2,1.0),(1.3,1.5),(1.4,1.3),(1.5,1.6),
          (1.6,1.4),(1.7,1.9),(1.8,1.7),(1.9,2.1),(2.0,2.0),(2.2,2.2),(2.4,2.3),(2.6,2.6),(2.8,2.5),
          (3.0,3.0),(3.2,3.3),(3.4,3.2),(3.6,3.7),(4.0,3.9),(4.4,4.3),(1.1,1.9)]
TIO1 = [(0.0,0.0),(0.0,0.02),(0.005,0.01),(0.01,-0.005),(0.01,0.025),(0.015,0.015),(0.02,0.0),(0.02,0.03),
        (0.025,0.01),(0.03,0.02),(0.03,-0.01),(0.035,0.005),(0.04,0.025),(0.04,0.01),(0.045,0.035),
        (0.05,0.02),(0.01,-0.025),(0.06,0.04),(0.07,0.065),(0.08,0.07),(0.09,0.08),(0.11,-0.015),
        (0.12,0.12),(0.13,0.13),(0.14,0.14),(0.15,0.15),(0.18,0.17),(0.19,0.16),(0.25,0.23),(0.27,0.07),
        (0.29,0.26),(0.31,0.3),(0.43,0.4),(0.48,0.42),(0.55,0.035),(0.58,0.52),(0.58,0.54),(0.6,0.57),
        (0.005,0.03),(0.015,0.0),(0.025,0.025),(0.035,0.02),(0.02,0.015),(0.03,0.035)]
TIO2 = [(0.0,0.0),(0.01,0.02),(0.02,-0.01),(0.02,0.04),(0.03,0.01),(0.04,0.05),(0.04,0.02),(0.05,0.07),
        (0.05,0.03),(0.06,0.1),(0.06,0.05),(0.07,0.08),(0.08,0.06),(0.08,0.1),(0.1,0.09),(0.12,0.1),
        (0.17,0.17),(0.2,0.2),(0.22,0.18),(0.29,0.27),(0.31,0.28),(0.32,0.33),(0.34,0.34),(0.33,0.31),
        (0.4,0.38),(0.52,0.47),(0.61,0.56),(0.62,0.61),(0.83,0.75),(0.88,0.76),(0.93,0.91),(0.98,0.89),
        (1.03,0.91),(0.57,0.16),(1.06,0.1),
        (0.015,0.01),(0.03,0.03),(0.045,0.06),(0.055,0.05),(0.07,0.06),(0.09,0.08)]
HDA = [(-11,-7.3),(-8,-4),(-8,-7.5),(-7.5,-7),(-7,-6),(-7,-7.5),(-6.5,-5.5),(-6,-6.5),(-6,-4.8),
       (-5.5,-5.5),(-5.5,-3.5),(-5,-5),(-5,-6.5),(-4.8,0),(-4.5,-4),(-4.5,-5.5),(-4,-3),(-4,-4.8),
       (-3.5,-3.8),(-3.5,-2.5),(-3,-5.8),(-3,-3),(-2.5,-2),(-2.5,-3.5),(-2,-1.5),(-2,-2.5),(-1.5,-1),
       (-1.5,-2.2),(-1,-0.5),(-1,-1.5),(-0.5,0),(-0.2,-6.3),(0,0.5),(0,-1),(0.5,1),(1,-2),(1,0.5),
       (1.5,2),(2,3),(2,1.2),(2.5,2.5),(3,2),(3,3.5),(4,4),(5,4.5),(5,5.5),(8,7),(8.5,8.5),(9,9.5),
       (10.5,12),(11,10.5),(12,12.2),(-9,-8),(-6,-7.5),
       (-7,-6.8),(-6.5,-6),(-6,-5.5),(-5.5,-4.5),(-5,-4),(-5,-5.5),(-4.5,-4.8),(-4,-3.8),(-4,-4.2),
       (-3.5,-3.2),(-3,-2.5),(-3,-3.8),(-2.5,-2.8),(-2,-2),(-1.5,-1.5),(-1,-1),(-0.5,-0.5),(0,0),
       (0.5,0.5),(1,1),(1.5,1.2),(2,2),(2.5,2),(3,3),(-6.5,-7)]
HGA = [(-12,-11),(-11.5,-10),(-11,-11.5),(-10.5,-10),(-10,-9),(-10,-11),(-9.5,-8.5),(-9,-9.5),(-9,-7.5),
       (-8.5,-2.6),(-8.5,-8),(-8,-6.5),(-8,-9),(-7.5,-3.5),(-7.5,-7.5),(-7,-6),(-7,-8),(-6.5,-4),
       (-6.5,-6.5),(-6,-5),(-6,-8),(-5.5,-5.5),(-5,-4.5),(-5,-6.5),(-4.5,-3.5),(-4,-7),(-4,-4),
       (-3.5,-3),(-3,-2),(-3,-3.5),(-2.5,-2.5),(-2.2,-11),(-2,-1.5),(-1.5,-1.5),(-1,-4.6),(-1,-0.5),
       (0,0),(0,-1),(1,1),(1,0.5),(1.5,1.5),(2,1.5),(2.5,2),(3,3),(3.5,0),(4.5,4),(7.5,7.2),(8,8),
       (10,10),(11,10.5),(13,11),(13,12),(-6,-8.5),(-10,-10.5),
       (-11.5,-11),(-11,-10.5),(-10.5,-11),(-10,-10),(-9.5,-9.5),(-9,-8.5),(-8.5,-9),(-8,-8),(-7.5,-7),
       (-7,-7),(-6.5,-7),(-6,-6),(-5.5,-6),(-5,-5),(-4.5,-4.5),(-4,-3.5),(-3.5,-4),(-3,-3),(-2,-2),
       (-1,-1),(1,1.5),(1.5,1),(2,2),(2.5,2.5),(-0.5,0)]
HDF = [(-4.3,-1.8),(-3.3,-4.1),(-2.5,-2.2),(-2.3,-1.5),(-2.0,0.1),(-2.0,-2.5),(-1.8,-1.2),(-1.5,-1.8),
       (-1.5,-0.5),(-1.2,-1.0),(-1.0,0.0),(-1.0,-1.7),(-0.8,-0.5),(-0.5,-1.0),(-0.5,0.3),(-0.3,-0.3),
       (0.0,0.5),(0.0,-0.7),(0.2,0.2),(0.5,0.6),(0.5,-0.3),(0.8,1.0),(1.0,0.4),(1.0,1.5),(1.3,1.2),
       (1.5,0.5),(1.5,2.0),(1.8,1.6),(2.0,2.3),(2.2,1.8),(2.5,2.6),(2.8,2.2),(3.0,-0.3),(3.0,3.0),
       (3.3,2.6),(3.5,0.5),(3.5,3.3),(4.0,2.4),(5.3,5.3),(5.5,5.5),(5.7,5.2),(6.0,6.0),(7.0,7.0),
       (7.3,7.3),(8.2,8.3),(8.8,8.7),(-2.8,-2.8),(0.3,-1.2),
       (-2.2,-2.0),(-2.0,-1.5),(-1.8,-2.0),(-1.6,-1.4),(-1.4,-1.2),(-1.2,-1.5),(-1.0,-0.8),(-0.8,-1.0),
       (-0.6,-0.4),(-0.4,-0.6),(-0.2,0.0),(0.0,0.0),(0.2,-0.2),(0.4,0.3),(0.6,0.4),(0.8,0.6),(1.0,1.0),
       (1.2,0.8),(1.4,1.4),(1.6,1.3),(1.8,1.9),(2.0,1.8),(2.4,2.3),(2.7,2.8),(-1.3,-0.3)]
HGF = [(-4.0,-3.5),(-3.8,-2.0),(-3.5,-3.9),(-3.3,-3.0),(-3.0,-2.5),(-3.0,-3.8),(-2.8,-2.2),(-2.5,-3.2),
       (-2.5,-1.8),(-2.3,-2.6),(-2.0,-2.0),(-2.0,-3.0),(-1.8,1.6),(-1.8,-1.5),(-1.5,-2.5),(-1.5,-1.0),
       (-1.2,-1.8),(-1.0,-0.8),(-1.0,-3.0),(-0.5,-3.4),(-0.5,-0.5),(-0.3,-1.2),(0.0,0.0),(0.0,1.0),
       (0.3,-0.5),(0.5,0.5),(0.8,0.3),(1.0,1.2),(1.5,1.5),(1.8,1.0),(2.0,2.0),(2.3,2.5),(2.5,2.0),
       (2.8,2.8),(3.0,3.2),(3.3,2.7),(3.5,3.5),(4.0,1.2),(4.0,3.8),(6.0,5.8),(6.0,6.0),(6.1,6.2),
       (7.3,7.3),(7.5,7.4),(8.0,7.9),(8.8,8.6),(9.8,9.2),(-3.5,-3.0),
       (-3.8,-3.8),(-3.6,-3.2),(-3.4,-3.6),(-3.2,-2.8),(-3.0,-3.2),(-2.8,-3.0),(-2.6,-2.5),(-2.4,-2.2),
       (-2.2,-2.8),(-2.0,-2.4),(-1.8,-2.0),(-1.6,-1.8),(-1.4,-1.5),(-1.2,-2.2),(-0.8,-1.2),(-0.2,-0.3),
       (0.2,0.2),(0.6,0.8),(1.2,1.0),(1.8,1.8),(2.2,2.2),(2.6,2.6),(3.0,2.8),(-2.7,-1.5),(-3.9,-3.0)]

PANELS = [CN1, CN2, CA4227, G4300, FE4383, CA4455,
          FE4531, C4668, HBETA, FE5015, MG1, MG2,
          MGB, FE5270, FE5335, FE5406, FE5709, FE5782,
          NA5895, TIO1, TIO2, HDA, HGA, HDF,
          HGF]

## Page geometry in pixels; the page body keeps its default 8 px margin,
## so the figure is made 8 px smaller and every position is shifted by it
BODY = 8
W, H = 892 - BODY, 900 - BODY
LEFT0, COLSTEP, PW = 29 - BODY, 148.67, 119.5
TOP0, ROWSTEP, PH = 26 - BODY, 180.8, 120
TXT = "#4a4a4a"
FONT = "Liberation Sans"


def minor_step(d):
    ## PGPLOT-like subdivisions: 2 -> halves, 1 and 5 -> fifths
    lead = round(d / 10 ** math.floor(math.log10(d)))
    return d / 2 if lead == 2 else d / 5


def label(text, xpx, ypx, angle=0, size=11):
    return dict(text=text, x=xpx / W, y=1 - ypx / H, xref="paper", yref="paper", showarrow=False,
                xanchor="center", yanchor="middle", textangle=angle,
                font=dict(family=FONT, size=size, color=TXT))


fig = go.Figure()
annotations = []

for i, name in enumerate(NAMES):
    r, c = divmod(i, 6)
    sfx = "" if i == 0 else str(i + 1)
    xa, ya = "x" + sfx, "y" + sfx
    lo, hi = LO[i], HI[i]
    pts = PANELS[i]

    ## data points
    fig.add_trace(go.Scatter(x=[p[0] for p in pts], y=[p[1] for p in pts], mode="markers",
                             marker=dict(color="black", size=4.5), xaxis=xa, yaxis=ya, showlegend=False))
    ## one-to-one line
    fig.add_trace(go.Scatter(x=[lo, hi], y=[lo, hi], mode="lines",
                             line=dict(color="black", width=1), xaxis=xa, yaxis=ya, showlegend=False))
    ## mean offset line
    fig.add_trace(go.Scatter(x=[lo, hi], y=[lo + BLK_OFF[i], hi + BLK_OFF[i]], mode="lines",
                             line=dict(color="black", width=1, dash="4px,3px"),
                             xaxis=xa, yaxis=ya, showlegend=False))
    ## linear fit
    fig.add_trace(go.Scatter(x=[lo, hi], y=[RED_SLOPE[i] * lo + RED_ICPT[i], RED_SLOPE[i] * hi + RED_ICPT[i]],
                             mode="lines", line=dict(color="red", width=1, dash="4px,3px"),
                             xaxis=xa, yaxis=ya, showlegend=False))

    left = LEFT0 + c * COLSTEP
    top = TOP0 + r * ROWSTEP
    common = dict(range=[lo, hi], dtick=DTICK[i], tick0=0, ticks="inside", ticklen=4, tickcolor="black",
                  showline=True, linecolor="black", linewidth=1, mirror="allticks", showgrid=False,
                  zeroline=False, tickfont=dict(family=FONT, size=11, color=TXT),
                  minor=dict(dtick=minor_step(DTICK[i]), ticks="inside", ticklen=2.5, tickcolor="black",
                             showgrid=False))
    fig.layout["xaxis" + sfx] = dict(common, domain=[left / W, (left + PW) / W], anchor=ya)
    fig.layout["yaxis" + sfx] = dict(common, domain=[1 - (top + PH) / H, 1 - top / H], anchor=xa,
                                     tickangle=-90, ticklabelstandoff=-2)

    ## texts that would fall off the page edge are kept just inside it
    annotations.append(label(name, left + PW / 2, max(top - 21, 5)))
    annotations.append(label("Lick", left + PW / 2, min(top + PH + 28, H - 7)))
    if left - 24 < 5:
        annotations.append(label("MILES", 4, top + PH / 2, angle=-90, size=10))
    else:
        annotations.append(label("MILES", left - 24, top + PH / 2, angle=-90))

fig.update_layout(width=W, height=H, margin=dict(l=0, r=0, t=0, b=0),
                  paper_bgcolor="white", plot_bgcolor="white", annotations=annotations)

fig.write_html("out.html")
